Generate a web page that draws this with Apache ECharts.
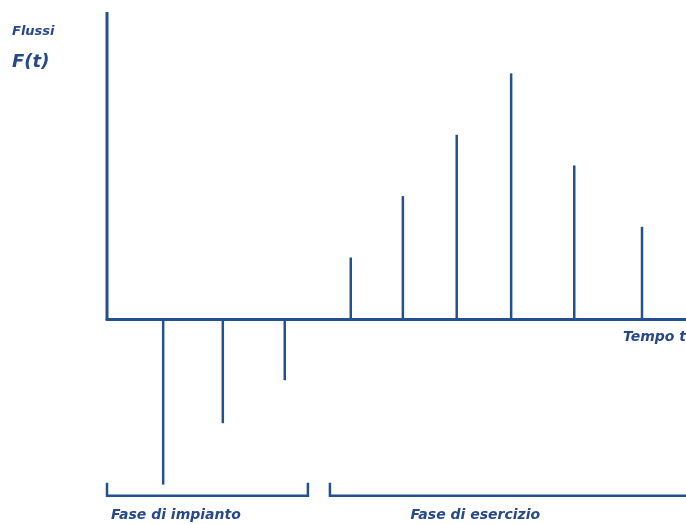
<!DOCTYPE html>
<html>
<head>
<meta charset="utf-8">
<script src="https://cdn.jsdelivr.net/npm/echarts@6/dist/echarts.min.js"></script>
<style>
html,body{margin:0;padding:0;background:#fff;}
#c{width:686px;height:524px;}
</style>
</head>
<body>
<div id="c"></div>
<script>
// Time positions of the cash flows (arbitrary units along "Tempo t")
var times = [9.7, 20.0, 30.7, 42.1, 51.1, 60.4, 69.8, 80.7, 92.4];
// Cash flow values F(t) (arbitrary units; negative = outflows)
var flows = [-2.7, -1.7, -1.0, 1.0, 2.0, 3.0, 4.0, 2.5, 1.5];
// Phases (brackets below the chart)
var phaseNames = ['Fase di impianto', 'Fase di esercizio'];
var phaseStart = [0, 38.5];
var phaseEnd = [34.7, 100];
var phaseLabelX = [11.9, 63.6];

var COLOR = '#24508f';
var TXT = '#27498a';
var FONT = '"DejaVu Sans", Verdana, sans-serif';

var flowData = times.map(function (t, i) { return [t, flows[i]]; });
var phaseData = phaseNames.map(function (n, i) { return [phaseStart[i], phaseEnd[i], phaseLabelX[i], n]; });

var chart = echarts.init(document.getElementById('c'), null, {renderer: 'canvas'});
chart.setOption({
  animation: false,
  backgroundColor: '#ffffff',
  grid: {left: 107, right: 0, top: 12, bottom: 21, containLabel: false},
  xAxis: {
    type: 'value', min: 0, max: 100,
    axisLine: {show: true, onZero: true, lineStyle: {color: COLOR, width: 3}},
    axisTick: {show: false}, axisLabel: {show: false}, splitLine: {show: false}
  },
  yAxis: {
    type: 'value', min: -3, max: 5,
    axisLine: {show: false}, axisTick: {show: false}, axisLabel: {show: false}, splitLine: {show: false}
  },
  series: [
    {
      // vertical axis (positive half only)
      type: 'custom',
      data: [[0, 0, 5]],
      renderItem: function (params, api) {
        var p0 = api.coord([api.value(0), api.value(1)]);
        var p1 = api.coord([api.value(0), api.value(2)]);
        return {type: 'line', shape: {x1: p0[0], y1: p0[1] + 1.5, x2: p1[0], y2: p1[1]},
                style: {stroke: COLOR, lineWidth: 3}};
      },
      z: 3
    },
    {
      type: 'custom',
      data: flowData,
      renderItem: function (params, api) {
        var p0 = api.coord([api.value(0), 0]);
        var p1 = api.coord([api.value(0), api.value(1)]);
        return {type: 'line', shape: {x1: p0[0], y1: p0[1], x2: p1[0], y2: p1[1]},
                style: {stroke: COLOR, lineWidth: 2.5}};
      },
      z: 2
    },
    {
      type: 'custom',
      data: phaseData,
      renderItem: function (params, api) {
        var a = api.coord([api.value(0), -2.67]);
        var b = api.coord([api.value(1), -2.88]);
        var lx = api.coord([api.value(2), -3])[0];
        var isLast = params.dataIndex === phaseData.length - 1;
        var pts = isLast ? [[a[0], a[1]], [a[0], b[1]], [b[0] + 2, b[1]]]
                         : [[a[0], a[1]], [a[0], b[1]], [b[0], b[1]], [b[0], a[1]]];
        return {type: 'group', children: [
          {type: 'polyline', shape: {points: pts}, style: {stroke: COLOR, lineWidth: 2.5, fill: null}},
          {type: 'text', x: lx, y: b[1] + 20, style: {text: api.value(3), fill: TXT,
             font: 'italic bold 14px ' + FONT, textAlign: 'center', textVerticalAlign: 'middle'}}
        ]};
      }
    }
  ],
  graphic: [
    {type: 'text', left: 12, top: 25, style: {text: 'Flussi', fill: TXT, font: 'italic bold 13px ' + FONT}},
    {type: 'text', left: 12, top: 53, style: {text: 'F(t)', fill: TXT, font: 'italic bold 18px ' + FONT}},
    {type: 'text', right: 0, top: 330, style: {text: 'Tempo t', fill: TXT, font: 'italic bold 14px ' + FONT}}
  ]
});
</script>
</body>
</html>
